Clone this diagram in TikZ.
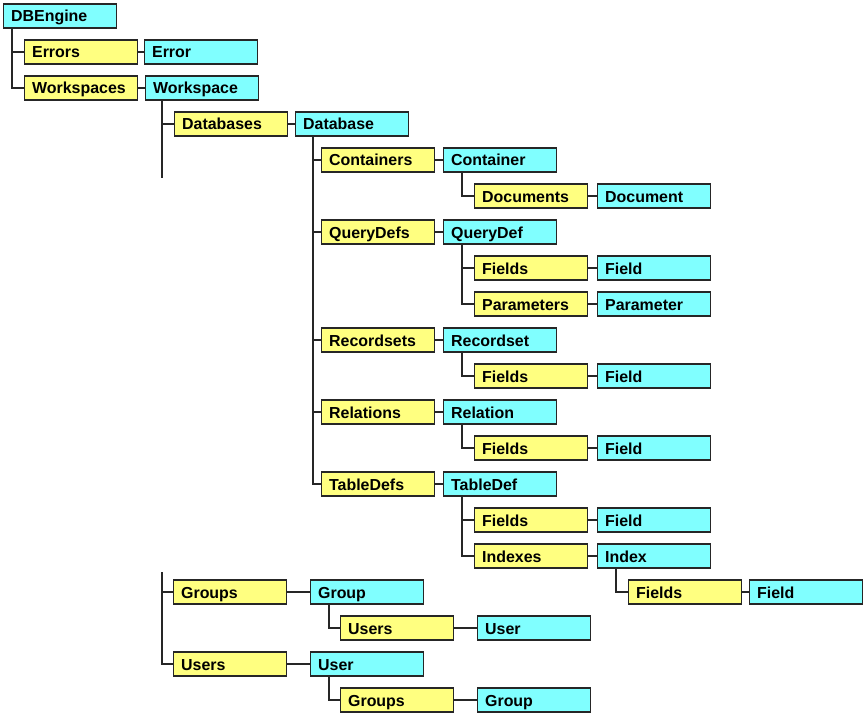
\documentclass[tikz,border=0pt]{standalone}
\usepackage{fontspec}
\setmainfont{Liberation Sans}
\begin{document}
\begin{tikzpicture}[x=1bp,y=-1bp,
  box/.style={draw=black!85,line width=1.3bp,anchor=west,minimum height=24bp,
    text width=98bp,inner xsep=7.5bp,inner ysep=0pt,align=left,
    text height=12bp,text depth=0pt,
    font=\fontsize{16}{17}\selectfont\bfseries},
  coll/.style={box,fill=ylw},
  obj/.style={box,fill=cyn},
  wire/.style={draw=black!85,line width=1.1bp}]
\definecolor{ylw}{RGB}{255,255,128}
\definecolor{cyn}{RGB}{128,255,255}
\useasboundingbox (0,0) rectangle (865,715);
% nodes
\node[obj]  (dbe)  at (3,16)   {DBEngine};
\node[coll] (errs) at (24,52)  {Errors};
\node[obj]  (err)  at (144,52) {Error};
\node[coll] (wss)  at (24,88)  {Workspaces};
\node[obj]  (ws)   at (145,88) {Workspace};
\node[coll] (dbs)  at (174,124) {Databases};
\node[obj]  (db)   at (295,124) {Database};
\node[coll] (cons) at (321,160) {Containers};
\node[obj]  (con)  at (443,160) {Container};
\node[coll] (docs) at (474,196) {Documents};
\node[obj]  (doc)  at (597,196) {Document};
\node[coll] (qds)  at (321,232) {QueryDefs};
\node[obj]  (qd)   at (443,232) {QueryDef};
\node[coll] (qfs)  at (474,268) {Fields};
\node[obj]  (qf)   at (597,268) {Field};
\node[coll] (qps)  at (474,304) {Parameters};
\node[obj]  (qp)   at (597,304) {Parameter};
\node[coll] (rss)  at (321,340) {Recordsets};
\node[obj]  (rs)   at (443,340) {Recordset};
\node[coll] (rfs)  at (474,376) {Fields};
\node[obj]  (rf)   at (597,376) {Field};
\node[coll] (rls)  at (321,412) {Relations};
\node[obj]  (rl)   at (443,412) {Relation};
\node[coll] (lfs)  at (474,448) {Fields};
\node[obj]  (lf)   at (597,448) {Field};
\node[coll] (tds)  at (321,484) {TableDefs};
\node[obj]  (td)   at (443,484) {TableDef};
\node[coll] (tfs)  at (474,520) {Fields};
\node[obj]  (tf)   at (597,520) {Field};
\node[coll] (ixs)  at (474,556) {Indexes};
\node[obj]  (ix)   at (597,556) {Index};
\node[coll] (ifs)  at (628,592) {Fields};
\node[obj]  (if)   at (749,592) {Field};
\node[coll] (grs)  at (173,592) {Groups};
\node[obj]  (gr)   at (310,592) {Group};
\node[coll] (gus)  at (340,628) {Users};
\node[obj]  (gu)   at (477,628) {User};
\node[coll] (uss)  at (173,664) {Users};
\node[obj]  (us)   at (310,664) {User};
\node[coll] (ugs)  at (340,700) {Groups};
\node[obj]  (ug)   at (477,700) {Group};
% collection -> object
\foreach \a/\b in {errs/err,wss/ws,dbs/db,cons/con,docs/doc,qds/qd,qfs/qf,qps/qp,
  rss/rs,rfs/rf,rls/rl,lfs/lf,tds/td,tfs/tf,ixs/ix,ifs/if,grs/gr,gus/gu,uss/us,ugs/ug}
  \draw[wire] (\a.east) -- (\b.west);
% tree lines
\draw[wire] ([xshift=9bp]dbe.south west) |- (errs.west);
\draw[wire] ([xshift=9bp]dbe.south west) |- (wss.west);
\draw[wire] ([xshift=17bp]ws.south west) |- (dbs.west);
\draw[wire] ([xshift=17bp]ws.south west) -- ++(0,77);
\coordinate (wsgap) at (162,572);
\draw[wire] (wsgap) |- (grs.west);
\draw[wire] (wsgap) |- (uss.west);
\foreach \c in {cons,qds,rss,rls,tds}
  \draw[wire] ([xshift=18bp]db.south west) |- (\c.west);
\draw[wire] ([xshift=19bp]con.south west) |- (docs.west);
\draw[wire] ([xshift=19bp]qd.south west) |- (qfs.west);
\draw[wire] ([xshift=19bp]qd.south west) |- (qps.west);
\draw[wire] ([xshift=19bp]rs.south west) |- (rfs.west);
\draw[wire] ([xshift=19bp]rl.south west) |- (lfs.west);
\draw[wire] ([xshift=19bp]td.south west) |- (tfs.west);
\draw[wire] ([xshift=19bp]td.south west) |- (ixs.west);
\draw[wire] ([xshift=19bp]ix.south west) |- (ifs.west);
\draw[wire] ([xshift=19bp]gr.south west) |- (gus.west);
\draw[wire] ([xshift=19bp]us.south west) |- (ugs.west);
\end{tikzpicture}
\end{document}
